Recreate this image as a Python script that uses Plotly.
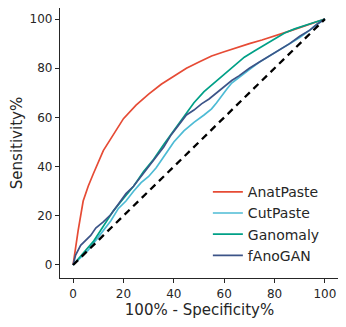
import plotly.graph_objects as go

# ROC curves (x = 100% - specificity, y = sensitivity)
anat_x = [0, 1, 2, 4, 6, 8, 12, 16, 20, 25, 30, 35, 40, 45, 50, 55, 60, 65, 70, 75, 80, 85, 90, 95, 100]
anat_y = [0, 8, 14, 26, 32, 37, 46.5, 53, 59.5, 65, 69.5, 73.5, 76.8, 80, 82.5, 85, 86.7, 88.5, 90, 91.5, 93, 94.8, 96.5, 98.2, 100]

cut_x = [0, 3, 6, 9, 12, 15, 18, 21, 24, 27, 30, 33, 36, 40, 44, 48, 52, 55, 57, 59, 61, 63, 66, 70, 74, 78, 82, 86, 90, 94, 97, 100]
cut_y = [0, 3, 6, 10, 14, 18, 23, 26, 30, 33.5, 36, 39.5, 44, 50, 54.5, 58, 61, 63.5, 66, 69, 71.5, 74, 76.5, 79.5, 82.5, 85, 87.5, 90, 92.5, 95.5, 98, 100]

gan_x = [0, 2, 5, 8, 10, 13, 16, 20, 24, 28, 32, 36, 40, 44, 48, 52, 56, 60, 64, 68, 72, 76, 80, 84, 88, 92, 96, 100]
gan_y = [0, 2.5, 6, 9.5, 12.5, 17, 22, 27, 32, 38, 43, 49, 54.5, 60, 66, 70.5, 74, 77.5, 81, 84.5, 87, 89.5, 92, 94.3, 96, 97.5, 98.7, 100]

fano_x = [0, 1, 3, 5, 7, 9, 12, 15, 18, 21, 24, 27, 30, 33, 36, 39, 42, 45, 48, 51, 54, 57, 60, 63, 66, 70, 74, 78, 82, 86, 90, 94, 97, 100]
fano_y = [0, 4, 8, 10, 12, 15, 17.5, 20.5, 25, 29, 32, 36, 40, 44, 48, 53, 57, 61, 63, 65.5, 67.5, 70, 72.5, 75, 77, 80, 82.5, 85, 87.5, 90, 93, 95.5, 98, 100]

diag = [0, 100]

series = [
    ("AnatPaste", anat_x, anat_y, "#e64b35"),
    ("CutPaste", cut_x, cut_y, "#4dbbd5"),
    ("Ganomaly", gan_x, gan_y, "#00a087"),
    ("fAnoGAN", fano_x, fano_y, "#3c5488"),
]

fig = go.Figure()
for name, xs, ys, col in series:
    fig.add_trace(go.Scatter(x=xs, y=ys, mode="lines", name=name,
                             line=dict(color=col, width=1.7)))

fig.add_trace(go.Scatter(x=diag, y=diag, mode="lines", showlegend=False,
                         line=dict(color="black", width=2.3, dash="7px,5px")))

axis_common = dict(
    tickvals=[0, 20, 40, 60, 80, 100],
    ticks="outside", ticklen=4, tickwidth=1.2, tickcolor="#262626",
    showline=True, linecolor="#262626", linewidth=1.3,
    showgrid=False, zeroline=False, automargin=False,
    tickfont=dict(size=12, color="#262626"),
)

fig.update_layout(
    width=346, height=327,
    margin=dict(l=52, r=15, t=0, b=57),
    paper_bgcolor="white", plot_bgcolor="white",
    font=dict(family="DejaVu Sans", color="#262626"),
    xaxis=dict(range=[-5.2, 105.6],
               title=dict(text="100% - Specificity%", font=dict(size=15), standoff=2), **axis_common),
    yaxis=dict(range=[-5.3, 104.5],
               title=dict(text="Sensitivity%", font=dict(size=15), standoff=7), **axis_common),
    legend=dict(x=0.53, y=0.377, xanchor="left", yanchor="top",
                font=dict(size=14, color="#262626"), bgcolor="rgba(0,0,0,0)",
                itemwidth=30),
)

fig.write_html("out.html")
